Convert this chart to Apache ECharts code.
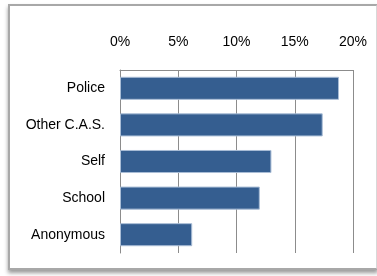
<!DOCTYPE html>
<html>
<head>
<meta charset="utf-8">
<script src="https://cdn.jsdelivr.net/npm/echarts@6/dist/echarts.min.js"></script>
<style>
  html, body { margin: 0; padding: 0; background: #fff; }
  #frame {
    position: absolute; left: 8px; top: 4px; width: 366px; height: 262px;
    border: 2px solid #a8a8a8; border-right-color: #d8d8d8;
    box-shadow: 0 3px 4px #9a9a9a;
  }
  #main { position: absolute; left: 0; top: 0; width: 377px; height: 276px; }
</style>
</head>
<body>
<div id="frame"></div>
<div id="main"></div>
<script>
// categories top to bottom
const categories = ['Police', 'Other C.A.S.', 'Self', 'School', 'Anonymous'];
const percentValues = [18.8, 17.4, 13.0, 12.0, 6.2];
const tickValues = [0, 5, 10, 15, 20];

const chart = echarts.init(document.getElementById('main'));

let option = {
  animation: false,
  grid: { left: 120, right: 24, top: 70, bottom: 23 },
  xAxis: {
    type: 'value',
    position: 'top',
    min: tickValues[0],
    max: tickValues[tickValues.length - 1],
    interval: 5,
    axisLine: { show: true, lineStyle: { color: '#8c8c8c', width: 1 } },
    axisTick: { show: false },
    splitLine: { show: true, lineStyle: { color: '#8c8c8c', width: 1 } },
    axisLabel: {
      formatter: v => v + '%',
      margin: 21,
      color: '#000',
      fontFamily: 'Liberation Sans',
      fontSize: 14
    }
  },
  yAxis: {
    type: 'category',
    data: categories,
    inverse: true,
    axisLine: { show: true, lineStyle: { color: '#8c8c8c', width: 1 } },
    axisTick: { show: false },
    axisLabel: {
      margin: 15,
      color: '#000',
      fontFamily: 'Liberation Sans',
      fontSize: 14
    }
  },
  series: [{
    type: 'bar',
    data: percentValues,
    barCategoryGap: '37%',
    itemStyle: { color: '#355e90', borderColor: '#a9bdd6', borderWidth: 1 }
  }]
};
chart.setOption(option);
</script>
</body>
</html>
